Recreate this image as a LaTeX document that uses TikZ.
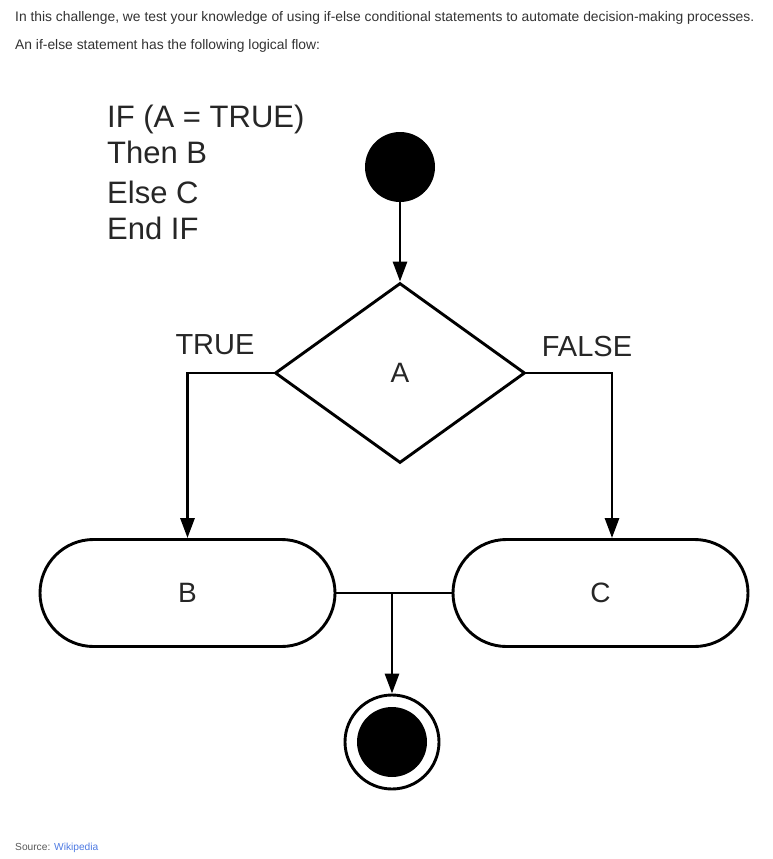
\documentclass[tikz,border=0pt]{standalone}
\usepackage{fontspec}
\setmainfont{Liberation Sans}
\usetikzlibrary{shapes.geometric,shapes.misc,arrows.meta,calc}
\definecolor{hdr}{HTML}{333333}
\definecolor{srcgray}{HTML}{5A5A5A}
\definecolor{wiki}{HTML}{4F7BE3}
\begin{document}
\begin{tikzpicture}[x=1pt,y=-1pt,
  line/.style={line width=2.9pt,draw=black},
  arr/.style={line,-{Triangle[length=20pt,width=14pt]}},
  lbl/.style={font=\fontsize{29}{34}\selectfont,inner sep=0pt,text=black!85},
  codeln/.style={font=\fontsize{31}{37}\selectfont,anchor=base west,inner sep=0pt,text=black!85},
  hdrtxt/.style={font=\fontsize{13.85}{16}\selectfont,anchor=base west,inner sep=0pt,text=hdr},
  term/.style={rounded rectangle,line,minimum width=295pt,minimum height=107pt,inner sep=0pt,font=\fontsize{28}{34}\selectfont,text=black!85}
]
\useasboundingbox[fill=white] (0,0) rectangle (773,859);

% header text
\node[hdrtxt] (h1) at (15,22) {In this challenge, we test your knowledge of using if-else conditional statements to automate decision-making processes.};
\node[hdrtxt] (h2) at (15,50) {An if-else statement has the following logical flow:};

% pseudo code
\node[codeln] (c1) at (107,127) {IF (A = TRUE)};
\node[codeln] (c2) at (107,163) {Then B};
\node[codeln] (c3) at (107,203) {Else C};
\node[codeln] (c4) at (107,239) {End IF};

% start
\node[circle,fill=black,minimum size=70pt,inner sep=0pt] (start) at (400,167) {};

% decision
\node[diamond,line,minimum width=250pt,minimum height=180pt,inner sep=0pt,font=\fontsize{28}{34}\selectfont,text=black!85] (A) at (400,373) {A};

% terminals
\node[term] (B) at (187.5,593) {B};
\node[term] (C) at (600.5,593) {C};

% end
\node[circle,line,minimum size=94pt,inner sep=0pt] (endring) at (392,742) {};
\node[circle,fill=black,minimum size=70pt,inner sep=0pt] (enddot) at (392,742) {};

% labels
\node[lbl] (tl) at (215,345) {TRUE};
\node[lbl] (fl) at (587,347) {FALSE};

% connectors
\draw[arr] (start.south) -- (A.north);
\draw[arr] (A.west) -| (B.north);
\draw[arr] (A.east) -| ([xshift=11.5pt]C.north);
\draw[line] (B.east) -- (C.west);
\coordinate (j) at (392,593);
\draw[arr] (j) -- (endring.north);

% source
\node[anchor=base west,inner sep=0pt,font=\fontsize{10.2}{12}\selectfont] (src) at (15,850) {\textcolor{srcgray}{Source:} \textcolor{wiki}{Wikipedia}};
\end{tikzpicture}
\end{document}
